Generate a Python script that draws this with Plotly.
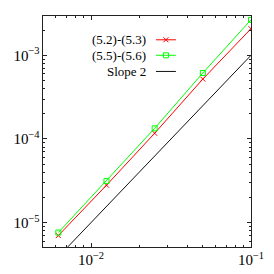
import plotly.graph_objects as go

# data
h = [0.00625, 0.0125, 0.025, 0.05, 0.1]
err_52_53 = [7.0e-6, 2.8e-5, 1.17e-4, 5.2e-4, 2.08e-3]
err_55_56 = [7.6e-6, 3.15e-5, 1.34e-4, 6.15e-4, 2.66e-3]
slope_x = [0.00625, 0.1]
slope_y = [3.9e-6, 1.0e-3]
labels = ["(5.2)-(5.3)", "(5.5)-(5.6)", "Slope 2"]

FONT = "Liberation Serif, Times New Roman, serif"
RED = "#ff0000"
GREEN = "#00ff00"
BLACK = "#111111"

fig = go.Figure()
fig.add_trace(go.Scatter(x=h, y=err_52_53, mode="lines+markers",
                         line=dict(color=RED, width=1),
                         marker=dict(symbol="x-thin-open", size=5, color=RED,
                                     line=dict(color=RED, width=1)),
                         showlegend=False))
fig.add_trace(go.Scatter(x=h, y=err_55_56, mode="lines+markers",
                         line=dict(color=GREEN, width=1),
                         marker=dict(symbol="square-open", size=5, color=GREEN,
                                     line=dict(color=GREEN, width=1)),
                         showlegend=False))
fig.add_trace(go.Scatter(x=slope_x, y=slope_y, mode="lines",
                         line=dict(color=BLACK, width=1),
                         showlegend=False))

# legend key (drawn on an overlay axis in plot-fraction units)
key_rows = [0.897, 0.830, 0.760]
key_x0, key_x1, key_xm, text_x = 0.543, 0.639, 0.591, 0.505
styles = [
    dict(color=RED, symbol="x-thin-open", size=5),
    dict(color=GREEN, symbol="square-open", size=5),
    dict(color=BLACK, symbol=None, size=0),
]
for lab, yy, st in zip(labels, key_rows, styles):
    fig.add_trace(go.Scatter(x=[key_x0, key_x1], y=[yy, yy], mode="lines",
                             line=dict(color=st["color"], width=1),
                             xaxis="x2", yaxis="y2", showlegend=False,
                             hoverinfo="skip"))
    if st["symbol"]:
        fig.add_trace(go.Scatter(x=[key_xm], y=[yy], mode="markers",
                                 marker=dict(symbol=st["symbol"], size=st["size"],
                                             color=st["color"],
                                             line=dict(color=st["color"], width=1)),
                                 xaxis="x2", yaxis="y2", showlegend=False,
                                 hoverinfo="skip"))
    fig.add_annotation(x=text_x, y=yy, xref="x2", yref="y2", text=lab,
                       showarrow=False, xanchor="right", yanchor="middle",
                       font=dict(family=FONT, size=13, color="black"))

axis_common = dict(
    type="log", showgrid=False, zeroline=False, automargin=False,
    showline=True, linecolor="#222", linewidth=1, mirror="ticks",
    ticks="inside", ticklen=4, tickcolor="#222", tickwidth=1,
    dtick=1, exponentformat="power",
    tickfont=dict(family=FONT, size=12, color="black"),
    minor=dict(ticks="inside", ticklen=2, tickcolor="#222", dtick="D1",
               showgrid=False),
)

fig.update_layout(
    width=274, height=274,
    margin=dict(l=43, r=23, t=16, b=27, autoexpand=False),
    paper_bgcolor="white", plot_bgcolor="white",
    font=dict(family=FONT),
    xaxis=dict(range=[-2.3, -1.0], **axis_common),
    yaxis=dict(range=[-5.292, -2.530], **axis_common),
    xaxis2=dict(overlaying="x", range=[0, 1], visible=False, fixedrange=True),
    yaxis2=dict(overlaying="y", range=[0, 1], visible=False, fixedrange=True),
    showlegend=False,
)

fig.write_html("out.html",
               config={"displayModeBar": False},
               post_script="document.body.style.margin='0';"
                           "document.body.style.overflow='hidden';")
